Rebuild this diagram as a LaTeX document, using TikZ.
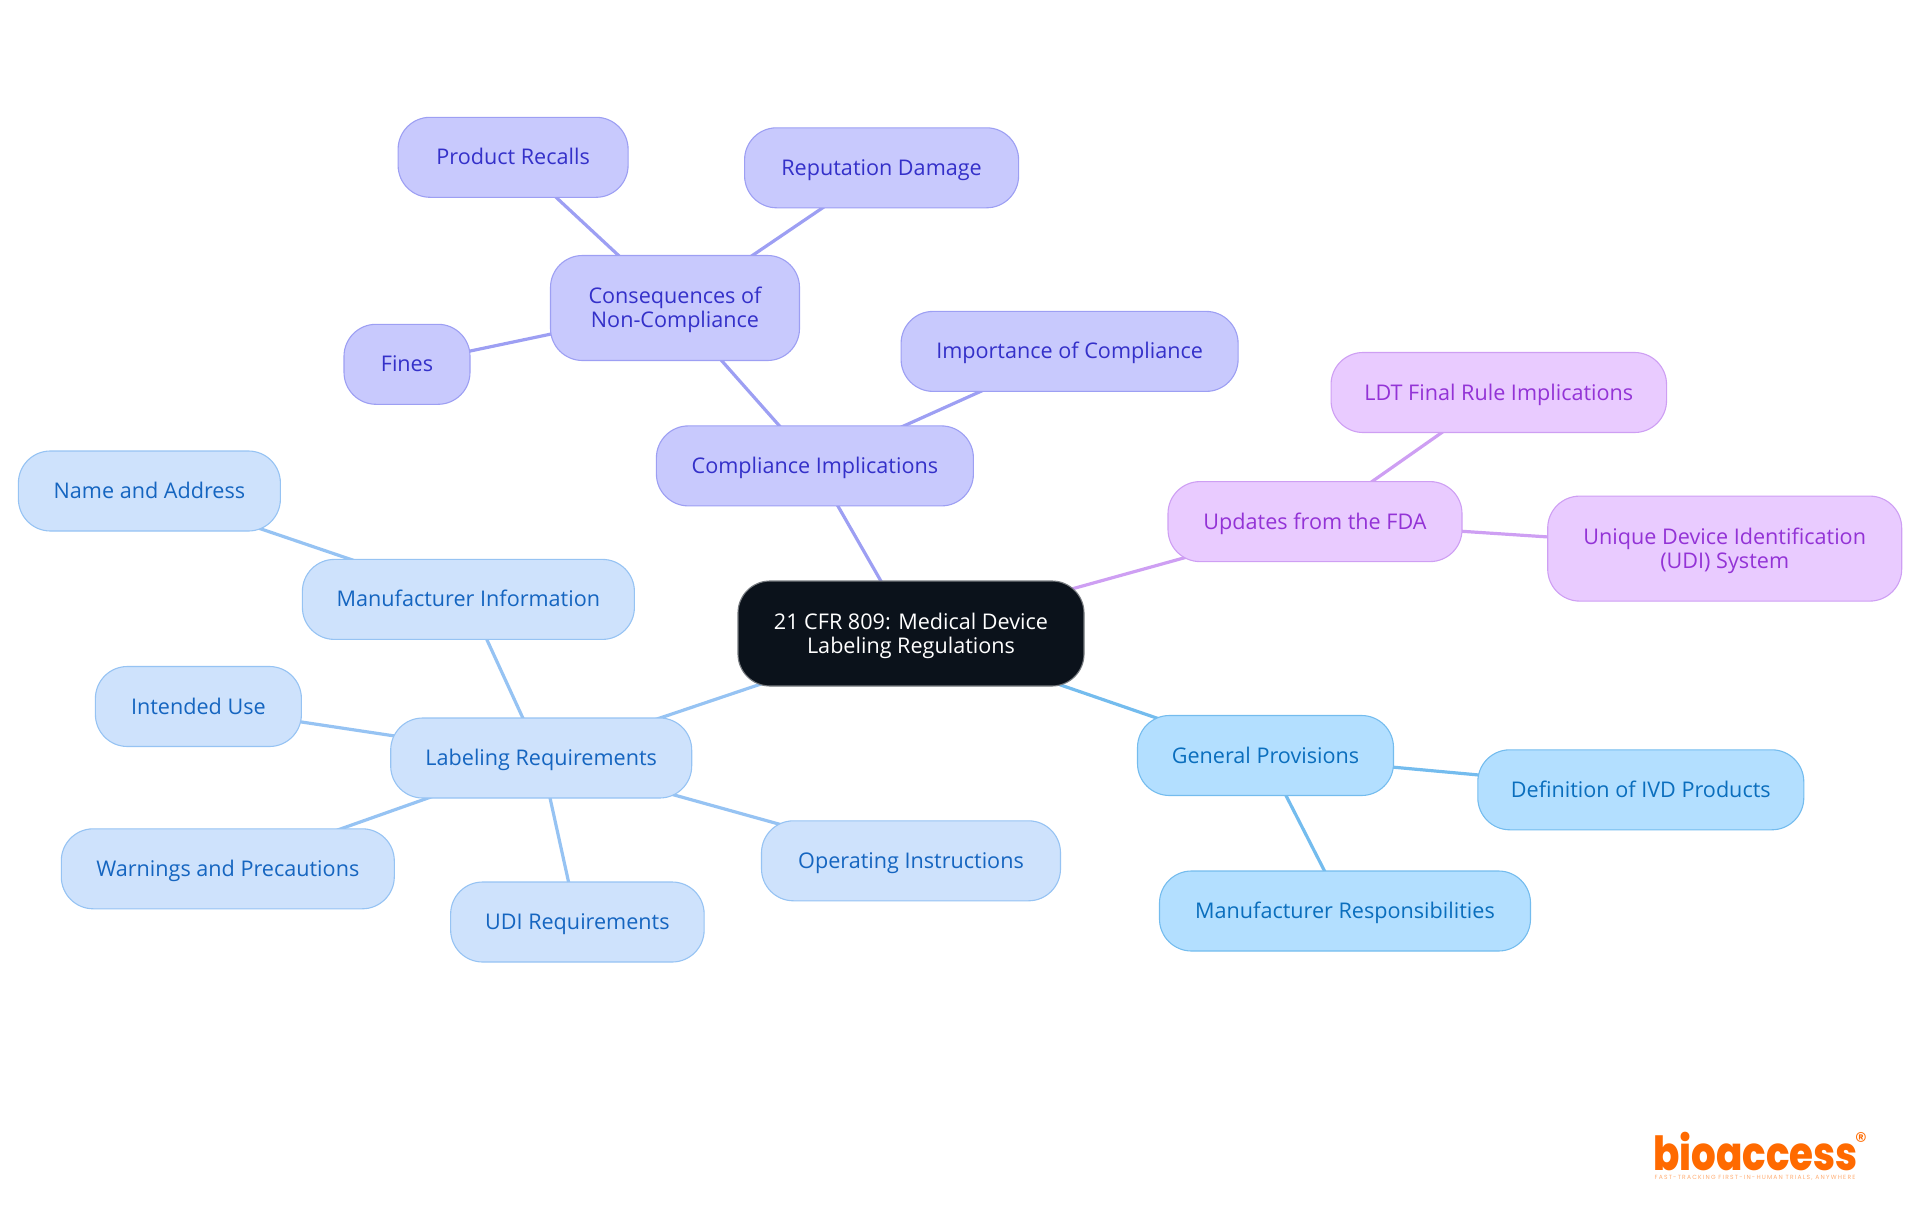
\documentclass[tikz,border=0pt]{standalone}
\usepackage{fontspec}
\setmainfont{Open Sans}
\newfontfamily\logofont{Poppins ExtraBold}
\newfontfamily\regfont{Poppins}
\newfontfamily\tagfont{Poppins}[LetterSpace=20]
\usetikzlibrary{backgrounds}
\definecolor{vioF}{HTML}{C8C9FD}\definecolor{vioS}{HTML}{9D9FF3}\definecolor{vioT}{HTML}{3430C9}
\definecolor{bluF}{HTML}{CEE2FC}\definecolor{bluS}{HTML}{96C3F3}\definecolor{bluT}{HTML}{1565C0}
\definecolor{skyF}{HTML}{B3DFFF}\definecolor{skyS}{HTML}{74BCEE}\definecolor{skyT}{HTML}{0A6EBD}
\definecolor{purF}{HTML}{E9CBFF}\definecolor{purS}{HTML}{CE9FF3}\definecolor{purT}{HTML}{9333D6}
\definecolor{rootF}{HTML}{0B121B}\definecolor{rootS}{HTML}{777B80}
\definecolor{logoO}{HTML}{FF6A00}
\newcommand{\mystrut}{\leavevmode\vrule height 20.5pt depth 5.5pt width 0pt\relax}
\tikzset{
  x=1pt,y=-1pt,
  box/.style={rectangle,rounded corners=32pt,inner sep=0pt,line width=1.1pt,align=center,minimum height=80pt,
    font=\fontsize{21.6}{24}\selectfont},
  tall/.style={minimum height=105pt},
  vio/.style={box,fill=vioF,draw=vioS,text=vioT},
  blu/.style={box,fill=bluF,draw=bluS,text=bluT},
  sky/.style={box,fill=skyF,draw=skyS,text=skyT},
  pur/.style={box,fill=purF,draw=purS,text=purT},
  rootbox/.style={box,fill=rootF,draw=rootS,text=white},
  link/.style={line width=3.2pt},
}
\begin{document}
\begin{tikzpicture}
\lineskiplimit=-10pt
\useasboundingbox (0,0) rectangle (1920,1215);
\node[rootbox,tall,minimum width=346pt] (root) at (911,633.5) {\mystrut 21 CFR 809: Medical Device\\\mystrut Labeling Regulations};
\node[vio,minimum width=317pt] (compl) at (814.9,465.9) {\mystrut Compliance Implications};
\node[vio,tall,minimum width=249pt] (conseq) at (675,308) {\mystrut Consequences of\\\mystrut Non-Compliance};
\node[vio,minimum width=230pt] (recalls) at (513.1,157.3) {\mystrut Product Recalls};
\node[vio,minimum width=274pt] (reput) at (881.6,167.8) {\mystrut Reputation Damage};
\node[vio,minimum width=126pt] (fines) at (407,364.3) {\mystrut Fines};
\node[vio,minimum width=337pt] (import) at (1069.6,351.4) {\mystrut Importance of Compliance};
\node[pur,minimum width=294pt] (updates) at (1315,521.6) {\mystrut Updates from the FDA};
\node[pur,minimum width=335.5pt] (ldt) at (1498.8,392.5) {\mystrut LDT Final Rule Implications};
\node[pur,tall,minimum width=354pt] (udisys) at (1724.7,548.6) {\mystrut Unique Device Identification\\\mystrut (UDI) System};
\node[sky,minimum width=256pt] (general) at (1265.5,755.5) {\mystrut General Provisions};
\node[sky,minimum width=326pt] (ivd) at (1640.8,789.8) {\mystrut Definition of IVD Products};
\node[sky,minimum width=371pt] (resp) at (1345,911) {\mystrut Manufacturer Responsibilities};
\node[blu,minimum width=301pt] (label) at (541.2,758) {\mystrut Labeling Requirements};
\node[blu,minimum width=332pt] (mfr) at (468.4,599.4) {\mystrut Manufacturer Information};
\node[blu,minimum width=262pt] (name) at (149.4,491) {\mystrut Name and Address};
\node[blu,minimum width=206pt] (intended) at (198.4,706.5) {\mystrut Intended Use};
\node[blu,minimum width=333pt] (warn) at (227.8,868.8) {\mystrut Warnings and Precautions};
\node[blu,minimum width=253.5pt] (udireq) at (577.4,922) {\mystrut UDI Requirements};
\node[blu,minimum width=299pt] (oper) at (911,860.8) {\mystrut Operating Instructions};
\begin{scope}[on background layer]
\draw[link,vioS] (root.center) -- (compl.center);
\draw[link,vioS] (compl.center) -- (conseq.center);
\draw[link,vioS] (compl.center) -- (import.center);
\draw[link,vioS] (conseq.center) -- (recalls.center);
\draw[link,vioS] (conseq.center) -- (reput.center);
\draw[link,vioS] (conseq.center) -- (fines.center);
\draw[link,purS] (root.center) -- (updates.center);
\draw[link,purS] (updates.center) -- (ldt.center);
\draw[link,purS] (updates.center) -- (udisys.center);
\draw[link,skyS] (root.center) -- (general.center);
\draw[link,skyS] (general.center) -- (ivd.center);
\draw[link,skyS] (general.center) -- (resp.center);
\draw[link,bluS] (root.center) -- (label.center);
\draw[link,bluS] (label.center) -- (mfr.center);
\draw[link,bluS] (mfr.center) -- (name.center);
\draw[link,bluS] (label.center) -- (intended.center);
\draw[link,bluS] (label.center) -- (warn.center);
\draw[link,bluS] (label.center) -- (udireq.center);
\draw[link,bluS] (label.center) -- (oper.center);
\end{scope}
\node[anchor=base west,inner sep=0pt,text=logoO,xscale=.825,font={\logofont\fontsize{47}{47}\selectfont}] (logo) at (1653,1170) {bioaccess};
\node[anchor=center,inner sep=0pt,text=logoO,font={\regfont\fontsize{24}{24}\selectfont}] (reg) at (1861,1141) {®};
\node[anchor=center,inner sep=0pt,text=logoO!55,font={\tagfont\fontsize{6}{6}\selectfont}] (tag) at (1755,1178) {FAST-TRACKING FIRST-IN-HUMAN TRIALS, ANYWHERE};
\end{tikzpicture}
\end{document}
